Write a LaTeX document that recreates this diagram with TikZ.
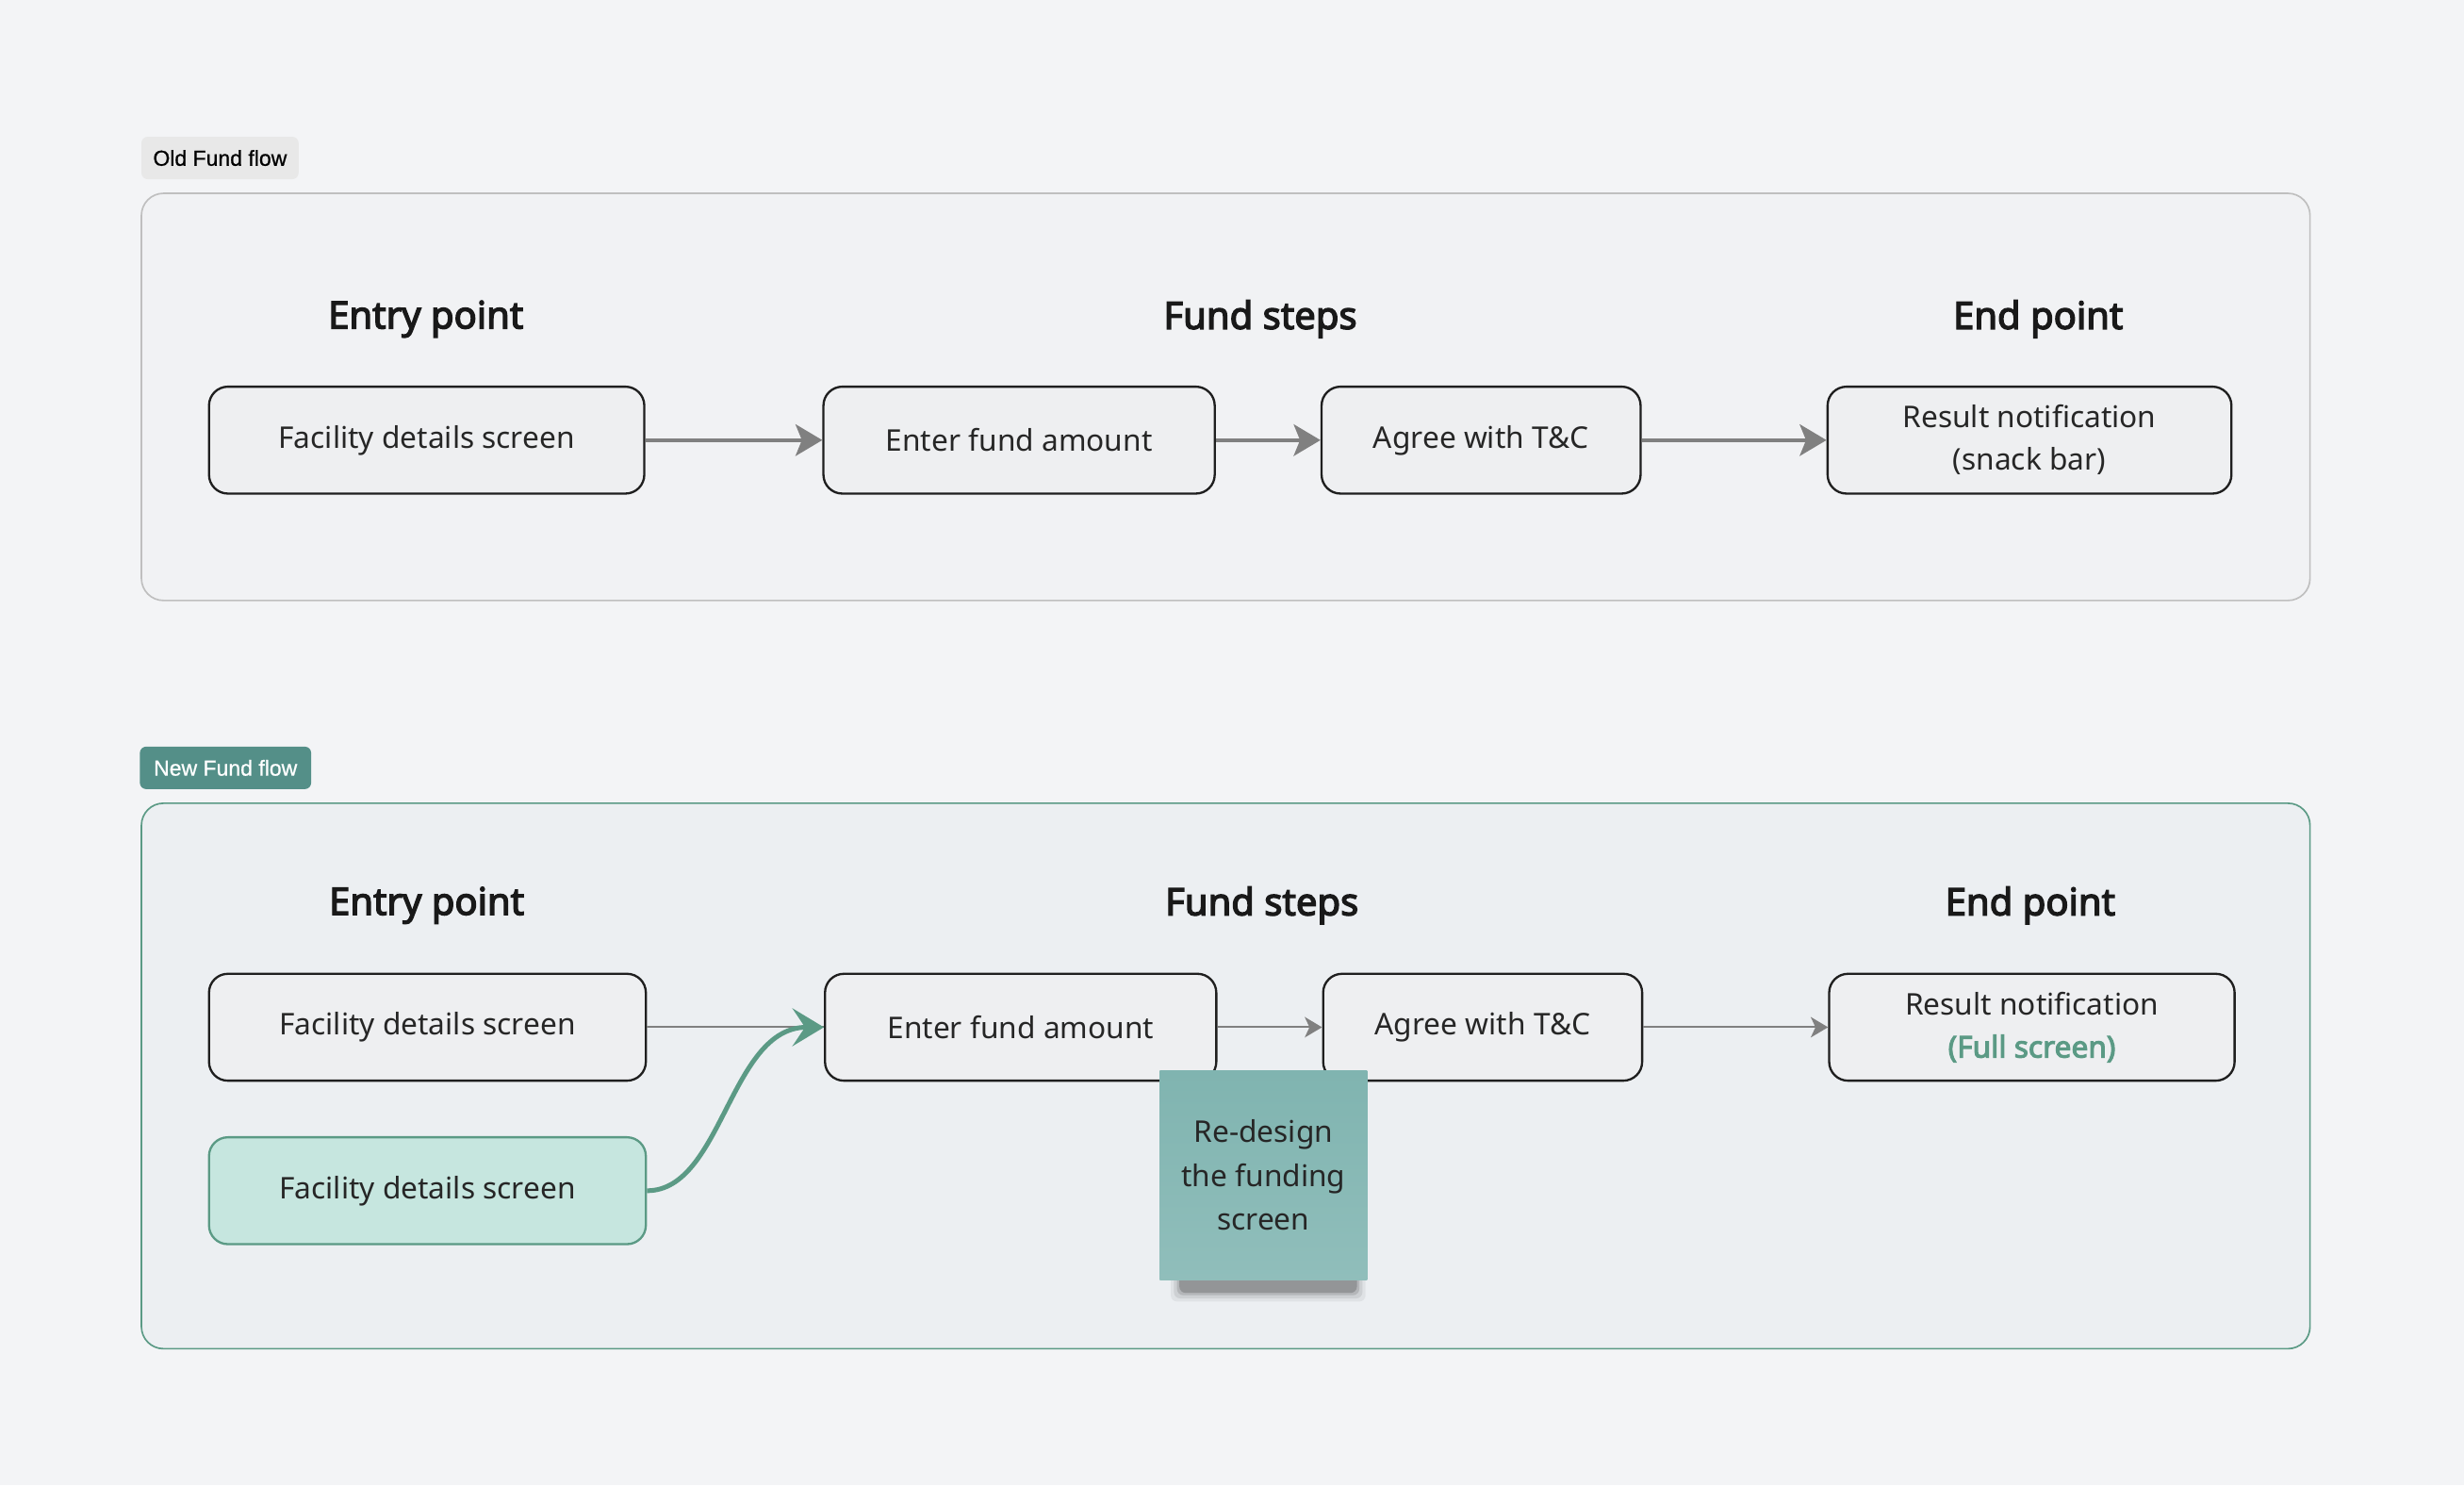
\documentclass[tikz,border=0pt]{standalone}
\usepackage{fontspec}
\setmainfont{Noto Sans}[AutoFakeBold=3.4]
\newfontfamily\tagfont{Liberation Sans}[FakeBold=0.8]
\usetikzlibrary{arrows.meta}
\definecolor{bg}{HTML}{F3F4F6}
\definecolor{oldframe}{HTML}{F1F2F4}
\definecolor{newframe}{HTML}{ECEFF2}
\definecolor{teal}{HTML}{548F88}
\definecolor{flowgreen}{HTML}{5B9A85}
\definecolor{greenfill}{HTML}{C6E6DF}
\definecolor{boxfill}{HTML}{EEEFF1}
\definecolor{notetop}{HTML}{80B4B0}
\definecolor{notebottom}{HTML}{90BEBB}
\definecolor{txt}{HTML}{262626}

\begin{document}
\begin{tikzpicture}[x=1pt, y=-1pt,
	main/.style = {draw=black!88, fill=boxfill, rounded corners=12pt, line width=1.4pt, minimum height=68pt, align=center, text=txt, font=\fontsize{19}{27}\selectfont},
	head/.style = {text=black!90, font=\fontsize{24}{26}\selectfont\bfseries},
	tag/.style = {rounded corners=4pt, minimum width=100pt, minimum height=27pt, inner sep=0pt, font=\tagfont\fontsize{13.8}{15}\selectfont},
	oldarrow/.style = {draw=black!50, line width=2.6pt, -{Stealth[length=17pt, width=20pt, inset=4pt]}},
	newarrow/.style = {draw=black!50, line width=1.2pt, -{Stealth[length=11pt, width=13pt, inset=3pt]}}]
	\fill[bg] (0,0) rectangle (1568,945);

	% old flow
	\node[tag, fill=black!9] (t1) at (140,100.5) {Old Fund flow};
	\draw[black!25, fill=oldframe, rounded corners=14pt, line width=1pt] (90,123) rectangle (1470,382);
	\node[head] (h1) at (271,203) {Entry point};
	\node[head] (h2) at (802,203) {Fund steps};
	\node[head] (h3) at (1297,203) {End point};
	\node[main, minimum width=277pt] (1) at (271.5,280) {Facility details screen};
	\node[main, minimum width=249pt] (2) at (648.5,280) {Enter fund amount};
	\node[main, minimum width=203pt] (3) at (942.5,280) {Agree with T\&C};
	\node[main, minimum width=257pt] (4) at (1291.5,280) {Result notification\\(snack bar)};
	\draw[oldarrow] (1) -- (2);
	\draw[oldarrow] (2) -- (3);
	\draw[oldarrow] (3) -- (4);

	% new flow
	\node[tag, fill=teal, text=white, minimum width=109pt] (t2) at (143.5,488.5) {New Fund flow};
	\draw[flowgreen, fill=newframe, rounded corners=14pt, line width=1pt] (90,511) rectangle (1470,858);
	\node[head] (h4) at (271.5,576) {Entry point};
	\node[head] (h5) at (803,576) {Fund steps};
	\node[head] (h6) at (1292,576) {End point};
	\node[main, minimum width=278pt] (5) at (272,653.5) {Facility details screen};
	\node[main, minimum width=249pt] (6) at (649.5,653.5) {Enter fund amount};
	\node[main, minimum width=203pt] (7) at (943.5,653.5) {Agree with T\&C};
	\node[main, minimum width=258pt] (8) at (1293,653.5) {Result notification\\{\bfseries\color{flowgreen}(Full screen)}};
	\node[main, minimum width=278pt, draw=flowgreen, fill=greenfill] (9) at (272,757.5) {Facility details screen};
	\draw[draw=black!50, line width=1.2pt] (5) -- (6);
	\draw[newarrow] (6) -- (7);
	\draw[newarrow] (7) -- (8);
	\draw[flowgreen, line width=3pt, -{Stealth[length=20pt, width=24pt, inset=8pt]}] (9.east) .. controls +(48,0) and +(-60,0) .. (6.west);

	% sticky note
	\foreach \d/\o in {7/0.05, 5/0.08, 3/0.12, 1.5/0.18}
		\fill[black, opacity=\o, rounded corners=4pt] (752-\d,800) rectangle (862+\d,821+\d);
	\node[shade, top color=notetop, bottom color=notebottom, minimum width=132pt, minimum height=133pt, align=center, text=txt, font=\fontsize{19}{28}\selectfont] (n) at (804,747.5) {Re-design\\the funding\\screen};
\end{tikzpicture}
\end{document}
